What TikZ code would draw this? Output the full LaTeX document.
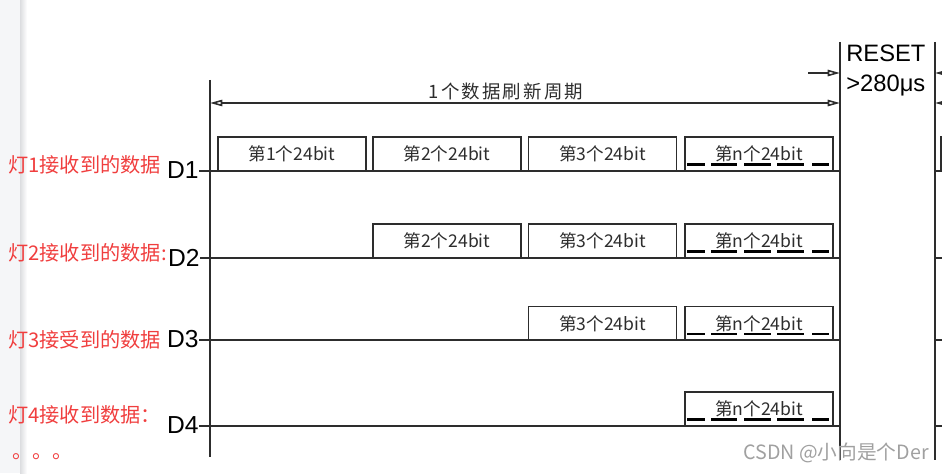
\documentclass[tikz,border=0pt]{standalone}
\usepackage{fontspec}
\setmainfont{Liberation Sans}
\newfontfamily\cjk{Noto Sans CJK SC}
\usepackage{tikz}
\usetikzlibrary{arrows.meta}

\definecolor{ink}{RGB}{45,45,45}
\definecolor{lblred}{RGB}{240,62,62}
\definecolor{wmgray}{RGB}{160,160,160}
\definecolor{strip}{RGB}{245,246,248}
\definecolor{stripedge}{RGB}{220,221,224}

\tikzset{
    frame/.style={draw=ink, line width=0.7pt, minimum width=2.96cm, minimum height=0.68cm,
        inner sep=0pt, text=ink, font=\cjk\fontsize{10}{12}\selectfont},
    sig/.style={draw=ink, line width=0.9pt},
    ndash/.style={draw=black, line width=1.4pt},
    pin/.style={anchor=east, inner sep=0pt, font=\fontsize{14}{16}\selectfont},
    lamp/.style={anchor=west, inner sep=0pt, text=lblred, font=\cjk\fontsize{11.5}{14}\selectfont},
    >={Triangle[open, length=7pt, width=3.6pt]},
}

\begin{document}
\begin{tikzpicture}[x=0.02cm, y=-0.02cm]
    \useasboundingbox (0,0) rectangle (942,473);
    \fill[strip] (0,0) rectangle (21,473);
    \shade[left color=stripedge, right color=white] (20,0) rectangle (27,473);

    % time markers
    \coordinate (lt) at (210,80);
    \coordinate (lb) at (210,457);
    \coordinate (rt) at (840,42);
    \coordinate (rb) at (840,460);
    \coordinate (xt) at (935,42);
    \coordinate (xb) at (935,460);
    \draw[sig] (lt) -- (lb);
    \draw[sig] (rt) -- (rb);
    \draw[sig] (xt) -- (xb);

    % refresh period
    \coordinate (pl) at (210,103);
    \coordinate (pr) at (840,103);
    \path (pl) edge[sig, <->] (pr);
    \node[font=\cjk\fontsize{10.5}{12}\addfontfeature{LetterSpace=12}\selectfont, text=ink](period) at (506,92) {1个数据刷新周期};

    % reset
    \coordinate (rsa) at (808,73);
    \coordinate (rse) at (840,73);
    \draw[sig, ->] (rsa) -- (rse);
    \coordinate (xa1) at (950,73);
    \coordinate (xe1) at (935,73);
    \coordinate (xa2) at (950,103);
    \coordinate (xe2) at (935,103);
    \draw[sig, ->] (xa1) -- (xe1);
    \draw[sig, ->] (xa2) -- (xe2);
    \node[anchor=west, inner sep=0pt, font=\fontsize{13.5}{16}\selectfont](reset) at (846,53) {RESET};
    \node[anchor=west, inner sep=0pt, font=\fontsize{13.5}{16}\selectfont](rtime) at (846,85) {>280μs};

    % data lines
    \node[pin](D1) at (199,170) {D1};
    \node[pin](D2) at (200,258) {D2};
    \node[pin](D3) at (199,339) {D3};
    \node[pin](D4) at (199,425) {D4};
    \foreach \d/\y in {1/171, 2/258, 3/340, 4/426} {
        \coordinate (e\d) at (840,\y);
        \draw[sig] (D\d.east |- e\d) -- (e\d);
        \draw[sig] (935,\y) -- (942,\y);
    }
    \draw[draw=ink, line width=0.7pt] (941,171) -- (941,137) -- (950,137);

    % 24bit frames
    \node[frame](b11) at (292,154)     {第1个24bit};
    \node[frame](b12) at (447,154)     {第2个24bit};
    \node[frame](b13) at (602.5,154)   {第3个24bit};
    \node[frame](b1n) at (759,154)     {第n个24bit};
    \node[frame](b22) at (447,241)     {第2个24bit};
    \node[frame](b23) at (602.5,241)   {第3个24bit};
    \node[frame](b2n) at (759,241)     {第n个24bit};
    \node[frame](b33) at (602.5,323.5) {第3个24bit};
    \node[frame](b3n) at (759,323.5)   {第n个24bit};
    \node[frame](b4n) at (759,409)     {第n个24bit};
    \foreach \bx in {b1n, b2n, b3n, b4n}
        \foreach \a/\b in {3/21, 27/53, 60/87, 93/120, 128/145}
            \draw[ndash] ([shift={(\a,-7)}]\bx.south west) -- ([shift={(\b,-7)}]\bx.south west);

    % lamp labels
    \node[lamp](L1) at (8,165) {灯1接收到的数据};
    \node[lamp](L2) at (8,253) {灯2接收到的数据:};
    \node[lamp](L3) at (8,340) {灯3接受到的数据};
    \node[lamp](L4) at (8,415) {灯4接收到数据：};
    \node[lamp, anchor=base west](more) at (12,458) {。。。};

    \node[anchor=west, inner sep=0pt, text=wmgray, font=\cjk\fontsize{11.2}{13}\selectfont](mark) at (743,453) {CSDN @小向是个Der};
\end{tikzpicture}
\end{document}
